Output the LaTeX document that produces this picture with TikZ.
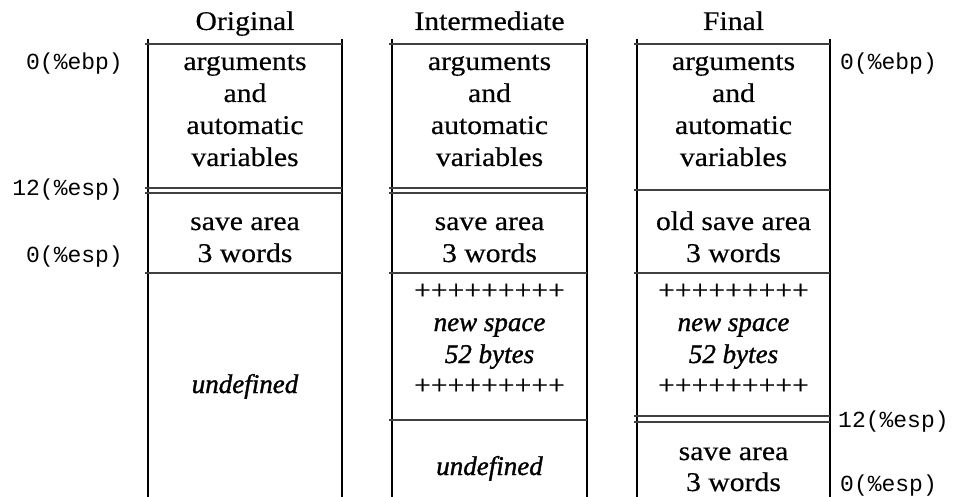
\documentclass[tikz,border=0pt]{standalone}
\usepackage{fontspec}
\setmainfont{Liberation Serif}[FakeStretch=1.1,FakeBold=0.4,ItalicFeatures={FakeStretch=1.0,FakeBold=1.2}]
\setmonofont{Liberation Mono}
\begin{document}
\begin{tikzpicture}[x=1pt,y=-1pt,
  txt/.style={anchor=base,inner sep=0pt,font=\fontsize{27}{32}\selectfont},
  itxt/.style={anchor=base,inner sep=0pt,font=\fontsize{27}{32}\selectfont\itshape},
  lbl/.style={inner sep=0pt,font=\fontsize{23}{26}\selectfont\ttfamily},
  wall/.style={line width=2pt,black},
  sep/.style={line width=1.3pt,black!75}]
\useasboundingbox (0,0) rectangle (963,497);
% column walls
\coordinate (c1tl) at (148,39); \coordinate (c1bl) at (148,497);
\coordinate (c1tr) at (342,39); \coordinate (c1br) at (342,497);
\coordinate (c2tl) at (392,39); \coordinate (c2bl) at (392,497);
\coordinate (c2tr) at (587,39); \coordinate (c2br) at (587,497);
\coordinate (c3tl) at (637,39); \coordinate (c3bl) at (637,497);
\coordinate (c3tr) at (830,39); \coordinate (c3br) at (830,497);
\foreach \c in {c1,c2,c3}{
  \draw[wall] (\c tl) -- (\c bl);
  \draw[wall] (\c tr) -- (\c br);
}
% separators
\foreach \xa/\xb in {145/342,389/587,634/830}{
  \draw[sep] (\xa,44) -- (\xb,44);
}
% column 1
\draw[sep] (145,188) -- (342,188);
\draw[sep] (145,193) -- (342,193);
\draw[sep] (145,273) -- (342,273);
% column 2
\draw[sep] (389,188) -- (587,188);
\draw[sep] (389,193) -- (587,193);
\draw[sep] (389,273) -- (587,273);
\draw[sep] (389,420) -- (587,420);
% column 3
\draw[sep] (634,190) -- (830,190);
\draw[sep] (634,273) -- (830,273);
\draw[sep] (634,416) -- (830,416);
\draw[sep] (634,422) -- (830,422);

% headers
\node[txt] (h1) at (245,30) {Original};
\node[txt] (h2) at (489.5,30) {Intermediate};
\node[txt] (h3) at (733.5,30) {Final};

% top cells
\foreach \x/\n in {245/a,489.5/b,733.5/c}{
  \node[txt] (\n1) at (\x,70) {arguments};
  \node[txt] (\n2) at (\x,102) {and};
  \node[txt] (\n3) at (\x,134) {automatic};
  \node[txt] (\n4) at (\x,166) {variables};
}
% save areas
\node[txt] (a5) at (245,230) {save area};
\node[txt] (a6) at (245,262) {3 words};
\node[txt] (b5) at (489.5,230) {save area};
\node[txt] (b6) at (489.5,262) {3 words};
\node[txt] (c5) at (733.5,230) {old save area};
\node[txt] (c6) at (733.5,262) {3 words};
% new space
\foreach \x/\n in {489.5/b,733.5/c}{
  \node[txt] (\n7) at (\x,299) {+++++++++};
  \node[itxt] (\n8) at (\x,331) {new space};
  \node[itxt] (\n9) at (\x,363) {52 bytes};
  \node[txt] (\n10) at (\x,394) {+++++++++};
}
\node[itxt] (a7) at (245,393) {undefined};
\node[itxt] (b11) at (489.5,475) {undefined};
\node[txt] (c11) at (733.5,460) {save area};
\node[txt] (c12) at (733.5,491) {3 words};

% register labels
\node[lbl,anchor=base east] (l1) at (123,70) {0(\%ebp)};
\node[lbl,anchor=base east] (l2) at (123,196) {12(\%esp)};
\node[lbl,anchor=base east] (l3) at (123,262) {0(\%esp)};
\node[lbl,anchor=base west] (r1) at (840,70) {0(\%ebp)};
\node[lbl,anchor=base west] (r2) at (838,427) {12(\%esp)};
\node[lbl,anchor=base west] (r3) at (840,491) {0(\%esp)};
\end{tikzpicture}
\end{document}
